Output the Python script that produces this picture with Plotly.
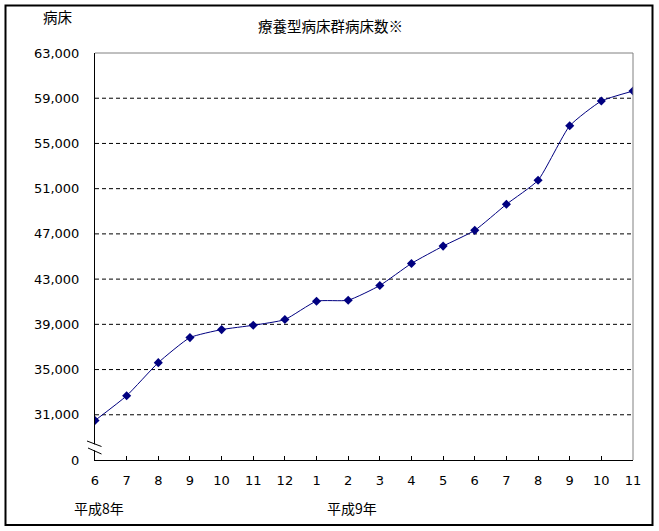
import plotly.graph_objects as go

months = ["6", "7", "8", "9", "10", "11", "12", "1", "2", "3", "4", "5", "6", "7", "8", "9", "10", "11"]
beds = [30495, 32684, 35610, 37826, 38535, 38917, 39422, 41044, 41133, 42436,
        44387, 45920, 47312, 49617, 51745, 56559, 58748, 59635]
y_tickvals = [27000, 31000, 35000, 39000, 43000, 47000, 51000, 55000, 59000, 63000]
y_ticktext = ["0", "31,000", "35,000", "39,000", "43,000", "47,000", "51,000", "55,000", "59,000", "63,000"]
grid_vals = y_tickvals[1:-1]

W, H = 659, 531
L, R, T, B = 95, 633, 53, 460
pw, ph = R - L, B - T

def px(x):
    return (x - L) / pw

def py(y):
    return (B - y) / ph

FONT = "DejaVu Sans, Noto Sans CJK JP"
CJK = "Noto Sans CJK JP"
NAVY = "#000080"

xs = list(range(len(months)))

fig = go.Figure()
fig.add_trace(go.Scatter(
    x=xs, y=beds, mode="lines+markers",
    line=dict(color=NAVY, width=1, shape="spline", smoothing=0.5),
    marker=dict(symbol="diamond", size=7, color=NAVY),
    hoverinfo="skip", showlegend=False,
))

shapes = []
for g in grid_vals:
    shapes.append(dict(type="line", xref="x", yref="y", x0=0, x1=len(months) - 1, y0=g, y1=g,
                       line=dict(color="black", width=1, dash="4px,3px"), layer="below"))
shapes.append(dict(type="line", xref="paper", yref="paper", x0=0, x1=1, y0=1, y1=1,
                   line=dict(color="#808080", width=1)))
shapes.append(dict(type="line", xref="paper", yref="paper", x0=1, x1=1, y0=0, y1=1,
                   line=dict(color="#808080", width=1)))
shapes.append(dict(type="path", xref="paper", yref="paper",
                   path=f"M {px(92)},{py(443.5)} L {px(98)},{py(445.5)} L {px(98)},{py(451.5)} L {px(92)},{py(449.5)} Z",
                   fillcolor="white", line=dict(width=0), layer="above"))
shapes.append(dict(type="line", xref="paper", yref="paper", x0=px(87), y0=py(441), x1=px(101.5), y1=py(446.5),
                   line=dict(color="black", width=1)))
shapes.append(dict(type="line", xref="paper", yref="paper", x0=px(88), y0=py(448), x1=px(101.5), y1=py(454),
                   line=dict(color="black", width=1)))
shapes.append(dict(type="rect", xref="paper", yref="paper", x0=px(5.5), y0=py(525), x1=px(652.5), y1=py(5.5),
                   line=dict(color="black", width=2), fillcolor="rgba(0,0,0,0)"))

annotations = [
    dict(text="療養型病床群病床数※", x=px(330), y=py(25), xref="paper", yref="paper",
         showarrow=False, font=dict(size=14.5, color="black", family=CJK), xanchor="center", yanchor="middle"),
    dict(text="病床", x=px(58), y=py(17), xref="paper", yref="paper",
         showarrow=False, font=dict(size=14.5, color="black", family=CJK), xanchor="center", yanchor="middle"),
    dict(text="平成8年", x=px(98.5), y=py(508), xref="paper", yref="paper",
         showarrow=False, font=dict(size=14, color="black", family=CJK), xanchor="center", yanchor="middle"),
    dict(text="平成9年", x=px(352), y=py(508), xref="paper", yref="paper",
         showarrow=False, font=dict(size=14, color="black", family=CJK), xanchor="center", yanchor="middle"),
]

fig.update_layout(
    width=W, height=H,
    margin=dict(l=L, r=W - R, t=T, b=H - B, pad=0),
    paper_bgcolor="white", plot_bgcolor="white",
    font=dict(family=FONT, size=13, color="black"),
    shapes=shapes, annotations=annotations,
    xaxis=dict(range=[0, len(months) - 1], tickvals=xs, ticktext=months,
               showgrid=False, zeroline=False, showline=True, linecolor="black", linewidth=1,
               ticks="inside", ticklen=4, tickcolor="black", tickwidth=1,
               tickfont=dict(size=13, family=FONT), ticklabelstandoff=8),
    yaxis=dict(range=[27000, 63000], tickvals=y_tickvals, ticktext=y_ticktext,
               showgrid=False, zeroline=False, showline=True, linecolor="black", linewidth=1,
               ticks="", tickfont=dict(size=13, family=FONT), ticklabelstandoff=12),
)

fig.write_html("out.html", config={"displayModeBar": False},
               post_script="document.body.style.margin='0';document.body.style.padding='0';")
